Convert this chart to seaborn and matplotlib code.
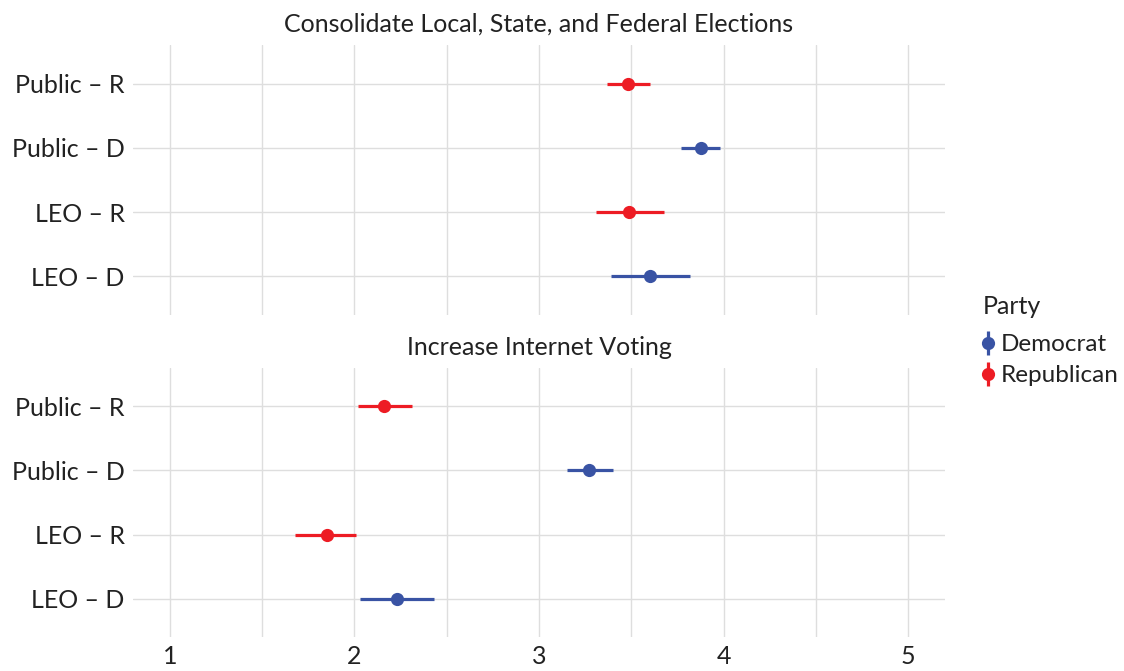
import matplotlib
matplotlib.use("Agg")
import matplotlib.pyplot as plt
from matplotlib.lines import Line2D
from matplotlib.legend_handler import HandlerTuple
from matplotlib.ticker import MultipleLocator
import numpy as np
import pandas as pd
import seaborn as sns

# Mean agreement (1-5 scale) with 95% intervals, by group
groups = ["Public – R", "Public – D", "LEO – R", "LEO – D"]
party = ["Republican", "Democrat", "Republican", "Democrat"]

consolidate_est = [3.48, 3.88, 3.49, 3.60]
consolidate_lo = [3.37, 3.77, 3.31, 3.39]
consolidate_hi = [3.60, 3.98, 3.68, 3.82]

internet_est = [2.16, 3.27, 1.85, 2.23]
internet_lo = [2.02, 3.15, 1.68, 2.03]
internet_hi = [2.31, 3.40, 2.01, 2.43]

panels = [
    ("Consolidate Local, State, and Federal Elections", consolidate_est, consolidate_lo, consolidate_hi),
    ("Increase Internet Voting", internet_est, internet_lo, internet_hi),
]

colors = {"Democrat": "#3953A4", "Republican": "#ED1C24"}
grid_color = "#DEDEDE"
text_color = "#222222"

sns.set_theme(style="white")
plt.rcParams["font.family"] = ["Lato", "DejaVu Sans"]

fig = plt.figure(figsize=(11.24, 6.71), dpi=100)
left, right = 133 / 1124, 945 / 1124
boxes = [(45, 315), (368, 637)]

axes = []
for i, ((title, est, lo, hi), (top, bot)) in enumerate(zip(panels, boxes)):
    ax = fig.add_axes([left, 1 - bot / 671, right - left, (bot - top) / 671])
    axes.append(ax)
    # Each group contributes (lo, est, hi); median gives est, full percentile interval gives lo-hi
    rows = []
    for g, p, e, l, h in zip(groups, party, est, lo, hi):
        for v in (l, e, h):
            rows.append({"group": g, "Party": p, "value": v})
    df = pd.DataFrame(rows)
    sns.pointplot(
        data=df, x="value", y="group", hue="Party", order=groups,
        hue_order=["Democrat", "Republican"], palette=colors,
        estimator="median", errorbar=("pi", 100), dodge=False,
        linestyle="none", markers="o", markersize=9.5, markeredgewidth=0,
        err_kws={"linewidth": 2.3, "solid_capstyle": "butt"},
        legend=False, ax=ax,
    )
    ax.set_xlim(0.8, 5.2)
    ax.set_ylim(3.6, -0.6)
    ax.xaxis.set_major_locator(MultipleLocator(1))
    ax.xaxis.set_minor_locator(MultipleLocator(0.5))
    ax.grid(True, which="both", axis="x", color=grid_color, linewidth=1.0)
    ax.grid(True, which="major", axis="y", color=grid_color, linewidth=1.0)
    ax.set_axisbelow(True)
    for s in ax.spines.values():
        s.set_visible(False)
    ax.set_xlabel("")
    ax.set_ylabel("")
    ax.set_title(title, fontsize=18, color=text_color, pad=9.5)
    ax.tick_params(axis="both", which="both", length=0, labelsize=18, colors=text_color)
    ax.tick_params(axis="y", pad=6)
    ax.tick_params(axis="x", pad=6)
    if i == 0:
        ax.tick_params(axis="x", labelbottom=False)

handles = []
for p in ["Democrat", "Republican"]:
    bar = Line2D([], [], color=colors[p], marker="|", markersize=17, markeredgewidth=2.3, linestyle="none")
    dot = Line2D([], [], color=colors[p], marker="o", markersize=9.5, markeredgewidth=0, linestyle="none")
    handles.append((bar, dot))

# Legend title drawn separately so the gap below it can be set freely
fig.text(983 / 1124, 1 - 306 / 671, "Party", fontsize=18, color=text_color,
         ha="left", va="center")
leg = fig.legend(
    handles, ["Democrat", "Republican"],
    handler_map={tuple: HandlerTuple(ndivide=1)},
    loc="upper left", bbox_to_anchor=(981 / 1124, 1 - 334 / 671),
    frameon=False, fontsize=17.5,
    handlelength=0.6, handletextpad=0.22, labelspacing=0.42,
    borderpad=0, borderaxespad=0,
)
for t in leg.get_texts():
    t.set_color(text_color)

fig.savefig("out.png", dpi=100)
